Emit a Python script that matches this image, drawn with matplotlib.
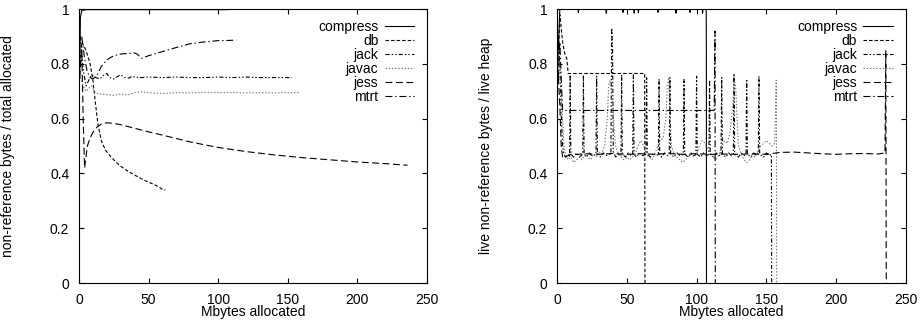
import matplotlib
matplotlib.use('Agg')
import matplotlib.pyplot as plt

plt.rcParams['font.family'] = ['Liberation Sans', 'DejaVu Sans']
plt.rcParams['font.size'] = 10
plt.rcParams['lines.scale_dashes'] = False

######################## data #################################################
names = ['compress', 'db', 'jack', 'javac', 'jess', 'mtrt']

# left panel: non-reference bytes / total allocated
compress_l_x = [0.5, 1, 2, 5, 107]
compress_l_y = [0.75, 0.97, 0.995, 0.998, 0.998]
db_l_x = [1, 2, 3, 5, 8, 10, 11.5, 13.6, 16, 19, 23.7, 28, 33, 40, 47, 54.6, 57, 59, 60.6, 62]
db_l_y = [0.80, 0.88, 0.87, 0.85, 0.80, 0.74, 0.67, 0.58, 0.52, 0.485, 0.456, 0.435, 0.415,
          0.394, 0.375, 0.358, 0.352, 0.345, 0.34, 0.34]
jack_l_x = [1, 3, 5, 7, 9, 12, 15, 18, 20, 22, 25, 28, 30, 33, 36, 38, 40, 45, 50, 60,
            70, 80, 90, 100, 110, 120, 130, 140, 153]
jack_l_y = [0.90, 0.78, 0.72, 0.74, 0.76, 0.75, 0.745, 0.76, 0.765, 0.75, 0.745, 0.755, 0.76,
            0.75, 0.748, 0.755, 0.752, 0.75, 0.752, 0.75, 0.752, 0.75, 0.75, 0.752, 0.75,
            0.752, 0.75, 0.75, 0.75]
javac_l_x = [1, 3, 5, 7, 9, 11, 14, 17, 20, 25, 30, 35, 40, 45, 50, 60, 70, 80, 90, 100,
             110, 120, 130, 140, 150, 158]
javac_l_y = [0.75, 0.72, 0.70, 0.71, 0.72, 0.70, 0.69, 0.69, 0.688, 0.685, 0.69, 0.687,
             0.695, 0.698, 0.695, 0.692, 0.695, 0.694, 0.696, 0.695, 0.695, 0.694, 0.695,
             0.694, 0.695, 0.695]
jess_l_x = [0.5, 2, 3, 4, 5, 6, 8, 10, 13, 16, 20, 25, 30, 40, 50, 60, 80, 100, 120, 140,
            160, 180, 200, 220, 236]
jess_l_y = [0.75, 0.85, 0.60, 0.42, 0.46, 0.50, 0.53, 0.55, 0.57, 0.58, 0.585, 0.583, 0.578,
            0.565, 0.552, 0.54, 0.515, 0.495, 0.48, 0.468, 0.458, 0.45, 0.442, 0.436, 0.43]
mtrt_l_x = [2, 4, 6, 8, 10, 13, 16, 20, 25, 30, 35, 40, 42, 45, 50, 60, 70, 80, 90, 100,
            105, 113]
mtrt_l_y = [0.90, 0.82, 0.77, 0.75, 0.745, 0.76, 0.79, 0.815, 0.83, 0.836, 0.838, 0.84,
            0.835, 0.82, 0.83, 0.845, 0.86, 0.874, 0.88, 0.885, 0.885, 0.887]

# right panel: live non-reference bytes / live heap
compress_r_x = [0.5, 2, 15, 15.3, 15.6, 35, 35.3, 35.6, 47, 47.3, 47.6, 55, 55.3, 55.6,
                58, 58.3, 58.6, 72, 72.3, 72.6, 85, 85.3, 85.6, 95, 95.3, 95.6,
                104, 104.3, 104.6, 106.9, 107, 107.1]
compress_r_y = [0.80, 1.0, 1.0, 0.988, 1.0, 1.0, 0.985, 1.0, 1.0, 0.988, 1.0, 1.0, 0.985, 1.0,
                1.0, 0.988, 1.0, 1.0, 0.988, 1.0, 1.0, 0.985, 1.0, 1.0, 0.988, 1.0,
                1.0, 0.985, 1.0, 1.0, 0.86, 0]
db_r_x = [0.5, 2, 3, 4, 5, 6, 7, 8, 62.8, 63]
db_r_y = [0.75, 0.98, 0.93, 0.88, 0.85, 0.83, 0.82, 0.765, 0.765, 0]
jack_r_x = [1, 2, 3, 4, 5, 6, 7, 8, 9, 9.4,
            9.9, 12, 14, 16, 18.4, 18.9, 19.4, 21, 23, 25,
            27.9, 28.4, 28.9, 31, 33, 35, 37.5, 38.6, 39.2, 39.8,
            40.3, 42, 44, 45.8, 46.3, 46.8, 49, 51, 53, 54.2,
            54.7, 55.2, 57, 59, 61, 63.7, 64.2, 64.7, 67, 69,
            71, 72.6, 73.1, 73.6, 75, 77, 79, 80.4, 80.9, 81.4,
            84, 86, 88, 90.5, 91, 91.5, 94, 96, 98, 99.5,
            100, 100.5, 103, 105, 107, 108.8, 109.3, 109.8, 112, 114,
            116, 117.5, 118, 118.5, 121, 123, 125, 126.3, 126.8, 127.3,
            130, 132, 134, 135.4, 135.9, 136.4, 139, 141, 143, 144.2,
            144.7, 145.2, 148, 150, 152, 153.6, 153.8]
jack_r_y = [0.90, 0.80, 0.62, 0.50, 0.47, 0.46, 0.465, 0.47, 0.46, 0.76,
            0.47, 0.46, 0.475, 0.46, 0.47, 0.76, 0.47, 0.46, 0.475, 0.465,
            0.47, 0.755, 0.47, 0.46, 0.475, 0.465, 0.47, 0.47, 0.93, 0.85,
            0.48, 0.46, 0.47, 0.465, 0.76, 0.47, 0.46, 0.475, 0.465, 0.47,
            0.76, 0.47, 0.46, 0.475, 0.465, 0.47, 0.75, 0.47, 0.46, 0.475,
            0.465, 0.47, 0.745, 0.47, 0.46, 0.475, 0.465, 0.47, 0.75, 0.47,
            0.46, 0.475, 0.465, 0.47, 0.745, 0.47, 0.46, 0.475, 0.465, 0.47,
            0.755, 0.47, 0.46, 0.475, 0.465, 0.47, 0.74, 0.47, 0.46, 0.475,
            0.465, 0.47, 0.75, 0.47, 0.46, 0.475, 0.465, 0.47, 0.765, 0.47,
            0.46, 0.475, 0.465, 0.47, 0.745, 0.47, 0.46, 0.475, 0.465, 0.47,
            0.755, 0.47, 0.46, 0.475, 0.465, 0.47, 0]
javac_r_x = [1, 2, 3, 4, 5, 6, 8, 10, 12, 14,
             16, 18, 20, 22, 24, 26, 28, 30, 32, 34,
             36, 37, 38, 39, 40, 41, 42, 44, 46, 48,
             50, 52, 54, 56, 58, 60, 62, 64, 66, 68,
             70, 72, 74, 76, 78, 79, 80, 81, 82, 84,
             86, 88, 90, 92, 94, 96, 98, 100, 102, 104,
             106, 108, 110, 112, 114, 116, 118, 120, 122, 124,
             126, 127, 128, 129, 130, 132, 134, 136, 138, 140,
             142, 144, 146, 148, 150, 152, 154, 156, 157, 157.2,
             157.4]
javac_r_y = [0.85, 0.78, 0.70, 0.60, 0.50, 0.47, 0.45, 0.46, 0.44, 0.45,
             0.46, 0.45, 0.47, 0.46, 0.45, 0.47, 0.46, 0.48, 0.47, 0.50,
             0.60, 0.72, 0.74, 0.70, 0.65, 0.55, 0.50, 0.47, 0.46, 0.45,
             0.46, 0.45, 0.46, 0.47, 0.50, 0.52, 0.50, 0.47, 0.46, 0.45,
             0.47, 0.50, 0.52, 0.53, 0.60, 0.72, 0.75, 0.60, 0.50, 0.47,
             0.46, 0.45, 0.44, 0.45, 0.46, 0.47, 0.46, 0.47, 0.50, 0.52,
             0.51, 0.49, 0.47, 0.46, 0.45, 0.47, 0.50, 0.52, 0.51, 0.55,
             0.65, 0.74, 0.72, 0.60, 0.50, 0.47, 0.45, 0.44, 0.45, 0.47,
             0.46, 0.48, 0.50, 0.51, 0.52, 0.51, 0.50, 0.51, 0.74, 0.74,
             0]
jess_r_x = [1, 2, 3, 4, 5, 6, 8, 10, 15, 20, 30, 40, 50, 60, 70, 80, 90, 100, 110, 120,
            130, 140, 150, 160, 170, 180, 190, 200, 210, 220, 230, 235, 235.6, 235.9]
jess_r_y = [0.75, 0.65, 0.50, 0.46, 0.455, 0.46, 0.465, 0.47, 0.47, 0.472, 0.47, 0.473,
            0.47, 0.472, 0.47, 0.473, 0.47, 0.472, 0.47, 0.471, 0.47, 0.472, 0.47, 0.477,
            0.478, 0.475, 0.472, 0.47, 0.472, 0.473, 0.471, 0.475, 0.85, 0]
mtrt_r_x = [1, 2, 3, 4, 5, 112.6, 113.2, 113.4]
mtrt_r_y = [0.75, 0.88, 0.75, 0.63, 0.63, 0.63, 0.92, 0]

x_ticks = [0, 50, 100, 150, 200, 250]
y_ticks = [0, 0.2, 0.4, 0.6, 0.8, 1]
y_ticklabels = ['0', '0.2', '0.4', '0.6', '0.8', '1']
######################## data #################################################

# gnuplot-like line styles
styles = {
    'compress': dict(color='black', linestyle='-'),
    'db': dict(color='black', linestyle=(0, (2.5, 1.5))),
    'jack': dict(color='black', linestyle=(0, (3, 1.5, 1, 1.5, 1, 1.5))),
    'javac': dict(color='0.45', linestyle=(0, (1, 1.3))),
    'jess': dict(color='black', linestyle=(0, (5, 2.5))),
    'mtrt': dict(color='black', linestyle=(0, (5, 2, 1, 2))),
}

left_data = [(compress_l_x, compress_l_y), (db_l_x, db_l_y), (jack_l_x, jack_l_y),
             (javac_l_x, javac_l_y), (jess_l_x, jess_l_y), (mtrt_l_x, mtrt_l_y)]
right_data = [(compress_r_x, compress_r_y), (db_r_x, db_r_y), (jack_r_x, jack_r_y),
              (javac_r_x, javac_r_y), (jess_r_x, jess_r_y), (mtrt_r_x, mtrt_r_y)]

fig = plt.figure(figsize=(9.23, 3.25), dpi=100)
ax1 = fig.add_axes([0.0856, 0.129, 0.377, 0.843])
ax2 = fig.add_axes([0.6035, 0.129, 0.378, 0.843])


def setup(ax, data, ylabel):
    for name, (xs, ys) in zip(names, data):
        ax.plot(xs, ys, lw=0.8, label=name, **styles[name])
    ax.set_xlim(0, 250)
    ax.set_ylim(0, 1)
    ax.set_xticks(x_ticks)
    ax.set_yticks(y_ticks)
    ax.set_yticklabels(y_ticklabels)
    ax.tick_params(direction='in', top=True, right=True, length=3.5, width=0.8, pad=7,
                   labelsize=10)
    for sp in ax.spines.values():
        sp.set_linewidth(0.8)
    ax.set_xlabel('Mbytes allocated')
    ax.set_ylabel(ylabel)
    ax.xaxis.set_label_coords(0.5, -0.08)
    ax.yaxis.set_label_coords(-0.184, 0.5)
    ax.legend(loc='upper right', bbox_to_anchor=(0.962, 0.962), frameon=False,
              markerfirst=False, borderpad=0, borderaxespad=0, handlelength=2.1,
              handletextpad=0.45, labelspacing=0.0, fontsize=10)


setup(ax1, left_data, 'non-reference bytes / total allocated')
setup(ax2, right_data, 'live non-reference bytes / live heap')

fig.savefig('out.png', dpi=100)
